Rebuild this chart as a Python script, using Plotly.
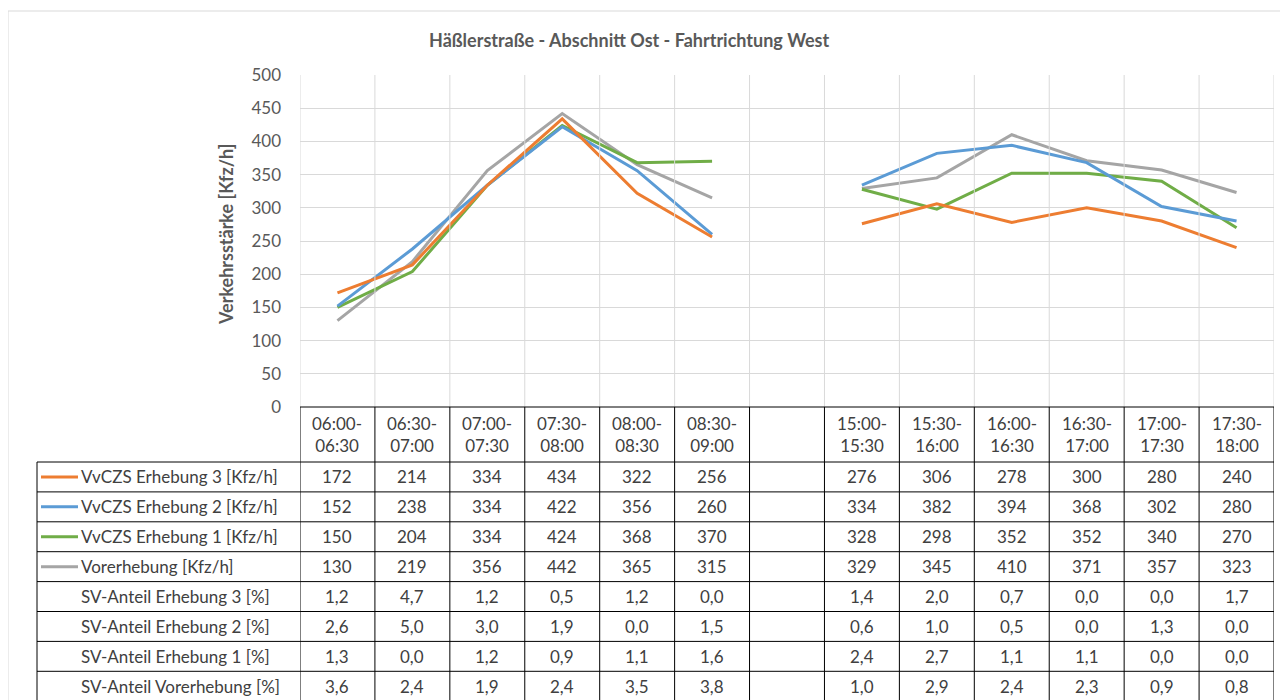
import plotly.graph_objects as go

# data
categories = ["06:00-<br>06:30", "06:30-<br>07:00", "07:00-<br>07:30", "07:30-<br>08:00",
              "08:00-<br>08:30", "08:30-<br>09:00", " ",
              "15:00-<br>15:30", "15:30-<br>16:00", "16:00-<br>16:30", "16:30-<br>17:00",
              "17:00-<br>17:30", "17:30-<br>18:00"]

erhebung3 = [172, 214, 334, 434, 322, 256, None, 276, 306, 278, 300, 280, 240]
erhebung2 = [152, 238, 334, 422, 356, 260, None, 334, 382, 394, 368, 302, 280]
erhebung1 = [150, 204, 334, 424, 368, 370, None, 328, 298, 352, 352, 340, 270]
vorerhebung = [130, 219, 356, 442, 365, 315, None, 329, 345, 410, 371, 357, 323]

sv3 = [1.2, 4.7, 1.2, 0.5, 1.2, 0.0, None, 1.4, 2.0, 0.7, 0.0, 0.0, 1.7]
sv2 = [2.6, 5.0, 3.0, 1.9, 0.0, 1.5, None, 0.6, 1.0, 0.5, 0.0, 1.3, 0.0]
sv1 = [1.3, 0.0, 1.2, 0.9, 1.1, 1.6, None, 2.4, 2.7, 1.1, 1.1, 0.0, 0.0]
sv_vor = [3.6, 2.4, 1.9, 2.4, 3.5, 3.8, None, 1.0, 2.9, 2.4, 2.3, 0.9, 0.8]

line_series = [
    ("VvCZS Erhebung 3 [Kfz/h]", erhebung3, "#ED7D31"),
    ("VvCZS Erhebung 2 [Kfz/h]", erhebung2, "#5B9BD5"),
    ("VvCZS Erhebung 1 [Kfz/h]", erhebung1, "#70AD47"),
    ("Vorerhebung [Kfz/h]", vorerhebung, "#A5A5A5"),
]
sv_series = [
    ("SV-Anteil Erhebung 3 [%]", sv3),
    ("SV-Anteil Erhebung 2 [%]", sv2),
    ("SV-Anteil Erhebung 1 [%]", sv1),
    ("SV-Anteil Vorerhebung [%]", sv_vor),
]

# the page body has an 8px margin, so the figure is a bit smaller and
# screen positions are shifted by that offset
OFF = 8
W, H = 1280, 692
FONT = "Lato"
TXT = "#404040"
GRID = "#D9D9D9"


def px(x):
    return (x - OFF) / W


def py(y):
    return 1 - (y - OFF) / H


plot_left, plot_right, plot_top, plot_bottom = 300, 1274, 75, 407
header_bottom = 462
row_h = 29.9
table_left = 37

fig = go.Figure()

# grey first so the survey lines sit on top
for name, vals, color in reversed(line_series):
    fig.add_trace(go.Scatter(x=categories, y=vals, name=name, mode="lines",
                             line=dict(color=color, width=3), connectgaps=False,
                             showlegend=False))

shapes = []
annotations = []

# outer chart frame
shapes.append(dict(type="rect", xref="paper", yref="paper", x0=px(8), x1=px(1285),
                   y0=py(715), y1=py(11), line=dict(color=GRID, width=1)))

n = len(categories)
# vertical gridlines in the plot area
for i in range(n + 1):
    shapes.append(dict(type="line", xref="x", yref="paper", x0=i - 0.5, x1=i - 0.5,
                       y0=py(plot_bottom), y1=py(plot_top), line=dict(color=GRID, width=1)))

# table rows
rows = [(name, [str(v) if v is not None else "" for v in vals], color)
        for name, vals, color in line_series]
rows += [(name, [f"{v:.1f}".replace(".", ",") if v is not None else "" for v in vals], None)
         for name, vals in sv_series]

row_edges = [header_bottom + k * row_h for k in range(len(rows) + 1)]

# horizontal table lines
shapes.append(dict(type="line", xref="paper", yref="paper", x0=px(plot_left), x1=px(plot_right),
                   y0=py(plot_bottom), y1=py(plot_bottom), line=dict(color="black", width=1)))
for ye in row_edges:
    shapes.append(dict(type="line", xref="paper", yref="paper", x0=px(table_left), x1=px(plot_right),
                       y0=py(ye), y1=py(ye), line=dict(color="black", width=1)))

# vertical table lines
shapes.append(dict(type="line", xref="paper", yref="paper", x0=px(table_left), x1=px(table_left),
                   y0=py(header_bottom), y1=py(row_edges[-1]), line=dict(color="black", width=1)))
for i in range(n + 1):
    shapes.append(dict(type="line", xref="x", yref="paper", x0=i - 0.5, x1=i - 0.5,
                       y0=py(plot_bottom), y1=py(row_edges[-1]), line=dict(color="black", width=1)))

cell_font = dict(family=FONT, size=17, color=TXT)

# header labels
for i, cat in enumerate(categories):
    annotations.append(dict(x=i, y=py((plot_bottom + header_bottom) / 2), xref="x", yref="paper",
                            text=cat, showarrow=False, font=cell_font, align="center",
                            xanchor="center", yanchor="middle"))

# body
for r, (name, cells, color) in enumerate(rows):
    yc = py((row_edges[r] + row_edges[r + 1]) / 2)
    annotations.append(dict(x=px(79), y=yc, xref="paper", yref="paper", text=name,
                            xanchor="left", yanchor="middle", showarrow=False, font=cell_font))
    if color:
        shapes.append(dict(type="line", xref="paper", yref="paper", x0=px(41), x1=px(78),
                           y0=yc, y1=yc, line=dict(color=color, width=3)))
    for i, c in enumerate(cells):
        if c:
            annotations.append(dict(x=i, y=yc, xref="x", yref="paper", text=c, showarrow=False,
                                    xanchor="center", yanchor="middle", font=cell_font))

# titles
annotations.append(dict(x=px(629), y=py(40), xref="paper", yref="paper", showarrow=False,
                        xanchor="center", yanchor="middle",
                        text="<b>Häßlerstraße - Abschnitt Ost - Fahrtrichtung West</b>",
                        font=dict(family=FONT, size=18, color="#595959")))
annotations.append(dict(x=px(226), y=py(235), xref="paper", yref="paper", showarrow=False,
                        xanchor="center", yanchor="middle",
                        text="<b>Verkehrsstärke [Kfz/h]</b>", textangle=-90,
                        font=dict(family=FONT, size=18, color="#595959")))

fig.update_layout(
    width=W, height=H,
    margin=dict(l=0, r=0, t=0, b=0, autoexpand=False),
    paper_bgcolor="white", plot_bgcolor="white",
    shapes=shapes, annotations=annotations,
    xaxis=dict(type="category", domain=[px(plot_left), px(plot_right)],
               range=[-0.5, n - 0.5], showticklabels=False, showgrid=False,
               zeroline=False, showline=False, ticks="", automargin=False),
    yaxis=dict(domain=[py(plot_bottom), py(plot_top)], range=[0, 500], dtick=50,
               gridcolor=GRID, zeroline=False, showline=False, ticks="",
               ticklabelstandoff=18, automargin=False,
               tickfont=dict(family=FONT, size=17, color="#595959")),
)

fig.write_html("out.html")
